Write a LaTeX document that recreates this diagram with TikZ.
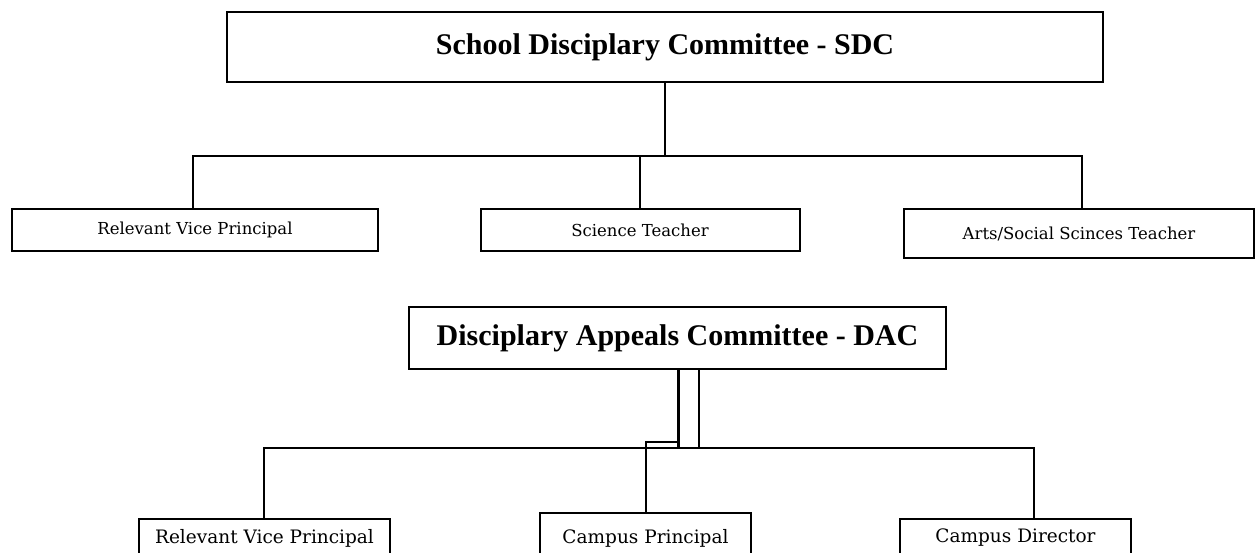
\documentclass[tikz,border=0pt]{standalone}
\usepackage{fontspec}
\setmainfont{DejaVu Serif}
\newfontfamily\titlefont{Liberation Serif}
\begin{document}
\begin{tikzpicture}[x=1pt,y=-1pt,
  box/.style={draw, line width=2pt, inner sep=0pt, fill=white,
    font=\fontsize{16.5}{20}\selectfont},
  lowbox/.style={box, font=\fontsize{18.5}{22}\selectfont},
  titlebox/.style={draw, line width=2pt, inner sep=0pt, fill=white,
    font=\titlefont\bfseries\fontsize{30}{36}\selectfont},
  conn/.style={line width=1.8pt, line join=miter},
  thin/.style={line width=1.6pt, line join=miter},
  thick/.style={line width=3pt}]
\fill[white] (0,0) rectangle (1257,552);
\useasboundingbox (0,0) rectangle (1257,552);
\clip (0,0) rectangle (1257,552);

% ---- School Disciplary Committee ----
\node[titlebox, minimum width=876pt, minimum height=70pt] (sdc) at (665,47)
  {School Disciplary Committee - SDC};
\node[box, minimum width=366pt, minimum height=42pt] (rvp) at (195,230)
  {Relevant Vice Principal};
\node[box, minimum width=319pt, minimum height=42pt] (sci) at (640,230)
  {Science Teacher};
\node[box, minimum width=350pt, minimum height=49pt] (arts) at (1079,233.5)
  {Arts/Social Scinces Teacher};

\coordinate (j1) at (665,156);
\coordinate (hl) at (193,156);
\coordinate (hr) at (1082,156);
\draw[conn] (sdc.south) -- (j1);
\draw[conn] (rvp.north -| hl) -- (hl) -- (hr) -- (hr |- arts.north);
\draw[conn] (sci.north) -- (sci.north |- hl);

% ---- Disciplary Appeals Committee ----
\node[titlebox, minimum width=537pt, minimum height=62pt] (dac) at (677.5,338)
  {Disciplary Appeals Committee - DAC};
\node[lowbox, minimum width=251pt, minimum height=38pt] (rvp2) at (264.5,538)
  {Relevant Vice Principal};
\node[lowbox, minimum width=211pt, minimum height=50pt] (cp) at (645.5,538)
  {Campus Principal};
\node[lowbox, minimum width=231pt, minimum height=38pt] (dir) at (1015.5,538)
  {Campus Director};

\coordinate (dl) at (678,448);
\coordinate (dr) at (699,448);
\coordinate (bl) at (264,448);
\coordinate (br) at (1034,448);
\coordinate (s1) at (678,442);
\coordinate (s2) at (646,442);
\draw[conn] (rvp2.north -| bl) -- (bl) -- (br) -- (br |- dir.north);
\draw[thick] (dac.south -| dl) -- (dl);
\draw[thin] (dac.south -| dr) -- (dr) -- (dl);
\draw[thin] (s1) -- (s2) -- (s2 |- cp.north);
\end{tikzpicture}
\end{document}
